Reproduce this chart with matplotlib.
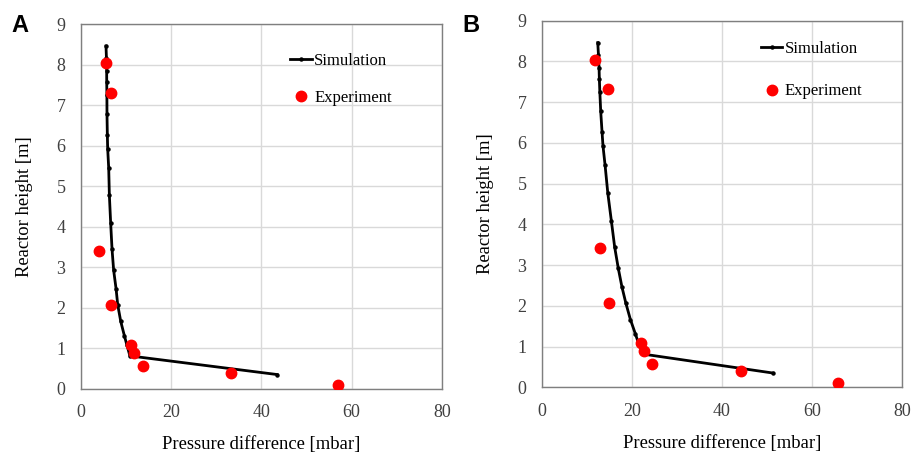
import numpy as np
import matplotlib.pyplot as plt

plt.rcParams['font.family'] = ['Liberation Serif', 'DejaVu Serif']

# simulated heights [m] (shared by both panels)
sim_height = [8.46, 8.16, 7.85, 7.56, 7.26, 6.77, 6.26, 5.93, 5.45, 4.77,
              4.08, 3.44, 2.92, 2.47, 2.07, 1.66, 1.31, 1.09, 0.81, 0.35]
sim_dp_A = [5.6, 5.7, 5.75, 5.76, 5.8, 5.82, 5.9, 5.97, 6.2, 6.35,
            6.64, 6.94, 7.3, 7.83, 8.2, 8.87, 9.67, 10.2, 10.9, 43.5]
sim_dp_B = [12.44, 12.6, 12.73, 12.8, 12.9, 13.1, 13.4, 13.6, 14.07, 14.67,
            15.47, 16.2, 17.0, 17.8, 18.67, 19.7, 20.8, 21.47, 22.8, 51.3]

# experiment
exp_height = [8.03, 7.31, 3.41, 2.07, 1.09, 0.89, 0.56, 0.39, 0.10]
exp_dp_A = [5.6, 6.7, 4.06, 6.7, 11.1, 11.9, 13.7, 33.4, 57.0]
exp_dp_B = [11.85, 14.67, 12.96, 14.9, 22.0, 22.74, 24.4, 44.2, 65.8]

fig = plt.figure(figsize=(9.12, 4.54), dpi=100)
axA = fig.add_axes([0.0885, 0.1438, 0.396, 0.803])
axB = fig.add_axes([0.594, 0.147, 0.395, 0.8075])

panels = [(axA, sim_dp_A, exp_dp_A, (0.58, 0.92), 1.25),
          (axB, sim_dp_B, exp_dp_B, (0.608, 0.945), 1.6)]

for ax, sim_dp, exp_dp, leg_pos, spacing in panels:
    ax.plot(sim_dp, sim_height, color='black', lw=2, marker='o', ms=2.2,
            label='Simulation', zorder=3)
    ax.plot(exp_dp, exp_height, ls='none', marker='o', ms=7.5, color='#ff0000',
            mec='#ff0000', label='Experiment', zorder=4)
    ax.set_xlim(0, 80)
    ax.set_ylim(0, 9)
    ax.set_xticks(np.arange(0, 81, 20))
    ax.set_yticks(np.arange(0, 10, 1))
    ax.grid(True, color='#d9d9d9', lw=1)
    ax.set_axisbelow(True)
    for s in ax.spines.values():
        s.set_color('#7f7f7f')
        s.set_linewidth(1)
    ax.tick_params(length=0, labelsize=13, colors='#404040')
    ax.tick_params(axis='x', pad=11)
    ax.tick_params(axis='y', pad=11)
    ax.set_xlabel('Pressure difference [mbar]', fontsize=13.4, labelpad=11)
    ax.set_ylabel('Reactor height [m]', fontsize=13.4, labelpad=17)
    ax.legend(loc='upper left', bbox_to_anchor=leg_pos, frameon=False,
              fontsize=12, handlelength=1.3, handletextpad=0.15,
              labelspacing=spacing, borderpad=0, borderaxespad=0)

fig.text(0.013, 0.93, 'A', fontsize=17, fontweight='bold', family='Liberation Sans')
fig.text(0.507, 0.93, 'B', fontsize=17, fontweight='bold', family='Liberation Sans')

fig.savefig('out.png', dpi=100)
